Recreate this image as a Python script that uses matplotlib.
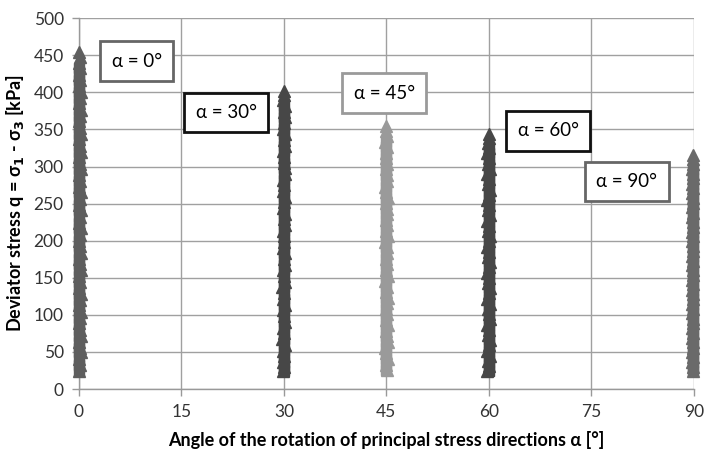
import matplotlib
matplotlib.use("Agg")
import matplotlib.pyplot as plt

# ---- data ----
labels = ["α = 0°", "α = 30°", "α = 45°", "α = 60°", "α = 90°"]
angles = [0, 30, 45, 60, 90]

q_a0 = [25, 33, 41, 50, 56, 64, 72, 80, 89, 96, 104, 113, 120, 128, 136, 145, 152, 160,
        169, 176, 184, 193, 200, 208, 217, 224, 232, 241, 248, 256, 265, 272, 280, 289,
        296, 304, 313, 320, 328, 337, 344, 352, 361, 368, 376, 385, 392, 400, 409, 416,
        424, 433, 440, 448, 455]
x_a0 = [0.05, 0.1, 0.05, 0.35, 0.1, 0.05, 0.3, 0.1, 0.05, 0.1, 0.35, 0.05, 0.1, 0.3,
        0.05, 0.1, 0.05, 0.35, 0.1, 0.05, 0.3, 0.1, 0.05, 0.1, 0.35, 0.05, 0.1, 0.3,
        0.05, 0.1, 0.35, 0.05, 0.1, 0.05, 0.3, 0.1, 0.05, 0.35, 0.1, 0.05, 0.3, 0.1,
        0.05, 0.1, 0.35, 0.05, 0.1, 0.3, 0.05, 0.1, 0.05, 0.1, 0.05, 0.1, 0.05]

q_a30 = [24, 30, 37, 45, 52, 60, 68, 75, 83, 91, 98, 106, 114, 121, 129, 137, 144, 152,
         160, 167, 175, 183, 190, 198, 206, 213, 221, 229, 236, 244, 252, 259, 267, 275,
         282, 290, 298, 305, 313, 321, 328, 336, 344, 351, 359, 367, 374, 382, 390, 397, 402]
x_a30 = [-0.15, 0.0, -0.2, 0.05, -0.1, 0.1, -0.25, 0.05, -0.1, 0.15, -0.05, -0.2, 0.1,
         -0.1, 0.05, -0.25, 0.1, 0.0, -0.1, 0.2, -0.05, 0.1, -0.2, 0.05, 0.0, -0.1, 0.15,
         -0.05, 0.1, -0.2, 0.0, 0.15, -0.1, 0.05, -0.15, 0.1, 0.2, -0.05, 0.0, -0.2, 0.1,
         -0.05, 0.15, -0.1, 0.05, 0.2, -0.05, 0.1, -0.1, 0.05, 0.0]

q_a45 = [26, 33, 41, 48, 56, 63, 71, 78, 86, 93, 101, 108, 116, 123, 131, 138, 146, 153,
         161, 168, 176, 183, 191, 198, 206, 213, 221, 228, 236, 243, 251, 258, 266, 273,
         281, 288, 296, 303, 311, 318, 326, 333, 341, 348, 354]
x_a45 = [0.1, -0.1, 0.25, 0.0, -0.15, 0.2, 0.05, -0.1, 0.25, 0.0, 0.15, -0.1, 0.05, 0.2,
         -0.05, 0.1, -0.15, 0.2, 0.0, 0.1, -0.1, 0.15, 0.05, -0.15, 0.2, 0.0, 0.1, -0.1,
         0.15, 0.05, -0.05, 0.2, 0.0, -0.15, 0.1, 0.05, -0.1, 0.15, 0.0, -0.1, 0.1, -0.15,
         0.05, 0.0, 0.0]

q_a60 = [24, 31, 38, 45, 52, 59, 66, 73, 80, 87, 94, 101, 108, 115, 122, 129, 136, 143,
         150, 157, 164, 171, 178, 185, 192, 199, 206, 213, 220, 227, 234, 241, 248, 255,
         262, 269, 276, 283, 290, 297, 304, 311, 318, 325, 332, 339, 344]
x_a60 = [-0.2, 0.1, -0.05, 0.2, -0.25, 0.05, 0.15, -0.15, 0.1, -0.2, 0.2, 0.0, -0.1,
         0.15, -0.25, 0.05, 0.2, -0.1, 0.1, -0.2, 0.0, 0.15, -0.15, 0.1, -0.25, 0.05,
         0.2, -0.1, 0.0, -0.2, 0.15, -0.05, 0.1, -0.25, 0.05, 0.2, -0.1, 0.0, -0.2, 0.15,
         -0.05, 0.1, -0.2, 0.05, -0.1, 0.0, 0.0]

q_a90 = [24, 30, 37, 43, 50, 56, 63, 69, 76, 82, 89, 95, 102, 108, 115, 121, 128, 134,
         141, 147, 154, 160, 167, 173, 180, 186, 193, 199, 206, 212, 219, 225, 232, 238,
         245, 251, 258, 264, 271, 277, 284, 290, 297, 303, 310, 316]
x_a90 = [-0.15, -0.05, -0.2, -0.1, -0.25, -0.05, -0.15, -0.2, -0.1, -0.25, -0.05, -0.15,
         -0.2, -0.1, -0.25, -0.05, -0.15, -0.2, -0.1, -0.25, -0.05, -0.15, -0.2, -0.1,
         -0.25, -0.05, -0.15, -0.2, -0.1, -0.25, -0.05, -0.15, -0.2, -0.1, -0.25, -0.05,
         -0.15, -0.2, -0.1, -0.25, -0.05, -0.15, -0.2, -0.1, -0.1, -0.1]

q_series = [q_a0, q_a30, q_a45, q_a60, q_a90]
x_offsets = [x_a0, x_a30, x_a45, x_a60, x_a90]

x_ticks = [0, 15, 30, 45, 60, 75, 90]
y_ticks = [0, 50, 100, 150, 200, 250, 300, 350, 400, 450, 500]

# ---- style ----
colors = ["#5e5e5e", "#474747", "#9a9a9a", "#474747", "#6a6a6a"]
box_edges = ["#666666", "#111111", "#9a9a9a", "#111111", "#666666"]
box_pos = [(8.45, 442), (21.55, 373), (44.7, 399), (68.7, 348), (80.2, 280)]
body_shift = [0.05, 0.0, 0.0, 0.0, -0.1]

plt.rcParams['font.family'] = ['Lato', 'DejaVu Sans']

fig = plt.figure(figsize=(7.05, 4.54), dpi=100)
ax = fig.add_axes([0.112, 0.143, 0.872, 0.817])

for ang, qs, offs, col, sh in zip(angles, q_series, x_offsets, colors, body_shift):
    xs = [ang + o for o in offs]
    body_q = qs[:-3]
    # central solid body
    ax.plot([ang + sh] * len(body_q), body_q,
            linestyle='none', marker='s', markersize=6.5,
            color=col, markeredgecolor=col, clip_on=False, zorder=3)
    ax.plot(xs, qs, linestyle='none', marker='^', markersize=8.5,
            color=col, markeredgecolor=col, clip_on=False, zorder=3)

for lab, (bx, by), ec in zip(labels, box_pos, box_edges):
    ax.text(bx, by, lab, ha='center', va='center', fontsize=13.5, color='black',
            zorder=5,
            bbox=dict(boxstyle='square,pad=0.6', facecolor='white',
                      edgecolor=ec, linewidth=2))

ax.set_xlim(0, 90)
ax.set_ylim(0, 500)
ax.set_xticks(x_ticks)
ax.set_yticks(y_ticks)
ax.tick_params(axis='both', labelsize=12.5, colors='#333333', length=5,
               width=1, direction='out', pad=6)
ax.tick_params(axis='both', color='#999999')
ax.grid(True, color='#a0a0a0', linewidth=1)
ax.set_axisbelow(True)
for s in ['top', 'right']:
    ax.spines[s].set_visible(False)
for s in ['left', 'bottom']:
    ax.spines[s].set_color('#999999')
    ax.spines[s].set_linewidth(1)

ax.set_xlabel("Angle of the rotation of principal stress directions α [°]",
              fontsize=13, fontweight='bold', labelpad=8)
ax.set_ylabel(r"Deviator stress q = σ$_\mathbf{1}$ - σ$_\mathbf{3}$ [kPa]",
              fontsize=13, fontweight='bold', labelpad=5)

fig.savefig("out.png", dpi=100)
